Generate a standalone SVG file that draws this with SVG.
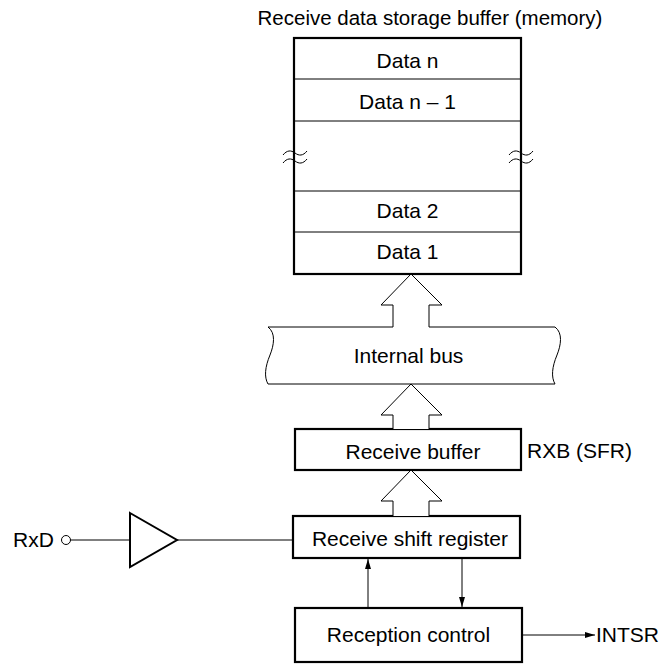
<svg xmlns="http://www.w3.org/2000/svg" width="664" height="664" viewBox="0 0 664 664">
<style>
text{font-family:"Liberation Sans",Arial,sans-serif;font-size:21px;fill:#000}
.c{text-anchor:middle}
.box{fill:#fff;stroke:#000;stroke-width:2.2}
.thin{fill:none;stroke:#000;stroke-width:1}
.harrow{fill:#fff;stroke:#000;stroke-width:1}
</style>
<defs>
<marker id="ah" viewBox="0 0 10 10" refX="10" refY="5" markerWidth="10" markerHeight="10" markerUnits="userSpaceOnUse" orient="auto">
<path d="M0,2 L10,5 L0,8 Z" fill="#000"/>
</marker>
</defs>
<rect width="664" height="664" fill="#fff"/>

<g id="memory">
<text class="c" x="430" y="25" style="font-size:20.5px">Receive data storage buffer (memory)</text>
<rect class="box" x="294" y="38" width="227" height="236"/>
<line class="thin" x1="294" y1="79" x2="521" y2="79"/>
<line class="thin" x1="294" y1="121" x2="521" y2="121"/>
<line class="thin" x1="294" y1="191" x2="521" y2="191"/>
<line class="thin" x1="294" y1="232" x2="521" y2="232"/>
<text class="c" x="407.5" y="68">Data n</text>
<text class="c" x="407.5" y="109">Data n – 1</text>
<text class="c" x="407.5" y="218">Data 2</text>
<text class="c" x="407.5" y="259">Data 1</text>
<path class="thin" d="M283,155 C287,150 291,150 295,153 C299,156 303,156 307,151"/>
<path class="thin" d="M283,163 C287,158 291,158 295,161 C299,164 303,164 307,159"/>
<path class="thin" d="M509,155 C513,150 517,150 521,153 C525,156 529,156 533,151"/>
<path class="thin" d="M509,163 C513,158 517,158 521,161 C525,164 529,164 533,159"/>
</g>

<g id="internal-bus">
<path class="thin" d="M268,327 C276,333 274,345 270,355 C265,367 264,377 268,384"/>
<path class="thin" d="M555,327 C563,333 561,345 557,355 C552,367 551,377 555,384"/>
<line class="thin" x1="268" y1="327" x2="393" y2="327"/>
<line class="thin" x1="429" y1="327" x2="555" y2="327"/>
<line class="thin" x1="268" y1="384" x2="555" y2="384"/>
<text class="c" x="408.5" y="363">Internal bus</text>
</g>

<g id="receive-buffer">
<rect class="box" x="295" y="429" width="226" height="41"/>
<text class="c" x="413" y="459">Receive buffer</text>
<text x="527" y="458">RXB (SFR)</text>
</g>

<g id="shift-register">
<rect class="box" x="293" y="516" width="227" height="42"/>
<text class="c" x="410" y="546">Receive shift register</text>
</g>

<g id="reception-control">
<rect class="box" x="295" y="608" width="227" height="54"/>
<text class="c" x="408.5" y="642">Reception control</text>
</g>

<g id="rxd">
<text x="13" y="547">RxD</text>
<circle cx="66" cy="540" r="4.5" fill="#fff" stroke="#000" stroke-width="1"/>
</g>

<g id="buffer-amp">
<polygon points="130,513 177,540 130,567" fill="#fff" stroke="#000" stroke-width="2"/>
</g>

<g id="intsr">
<text x="596" y="642">INTSR</text>
</g>

<g id="connectors">
<path class="harrow" d="M393,327 L393,305 L381,305 L411,274 L442,305 L429,305 L429,327"/>
<path class="harrow" d="M393,429 L393,415 L381,415 L411,384 L442,415 L429,415 L429,429"/>
<path class="harrow" d="M393,516 L393,501 L381,501 L411,470 L442,501 L429,501 L429,516"/>
<line class="thin" x1="70.5" y1="540" x2="130" y2="540"/>
<line class="thin" x1="177" y1="540" x2="293" y2="540"/>
<line class="thin" x1="368" y1="608" x2="368" y2="559" marker-end="url(#ah)"/>
<line class="thin" x1="462" y1="558" x2="462" y2="607" marker-end="url(#ah)"/>
<line class="thin" x1="522" y1="635" x2="595" y2="635" marker-end="url(#ah)"/>
</g>
</svg>
